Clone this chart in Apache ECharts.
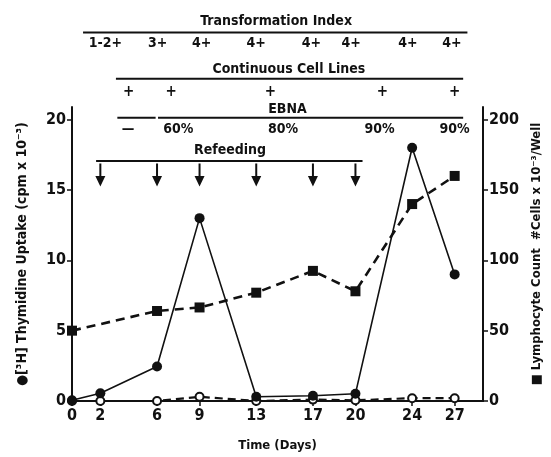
<!DOCTYPE html>
<html>
<head>
<meta charset="utf-8">
<script src="https://cdn.jsdelivr.net/npm/echarts@6/dist/echarts.min.js"></script>
<style>html,body{margin:0;padding:0;background:#fff}#c{width:551px;height:457px}</style>
</head>
<body>
<div id="c"></div>
<script>
// ---- data ----
var days = [0, 2, 6, 9, 13, 17, 20, 24, 27];
var thymidine = [0.05, 0.55, 2.45, 13, 0.3, 0.37, 0.52, 18, 9];           // filled circles, left axis
var thymidineCtrl = [0, 0, 0, 0.3, 0, 0.1, 0.05, 0.2, 0.2];               // open circles, left axis
var cellDays = [0, 6, 9, 13, 17, 20, 24, 27];
var cellCount = [50, 64, 66.5, 77, 92.5, 78, 140, 160];                  // squares, right axis
var xTicks = [0, 2, 6, 9, 13, 17, 20, 24, 27];
var leftTicks = [0, 5, 10, 15, 20];
var rightTicks = [0, 50, 100, 150, 200];

// annotation rows (x in days, y in left-axis units)
var tiLabels = ['1-2+', '3+', '4+', '4+', '4+', '4+', '4+', '4+'];
var tiDays = [2.35, 6.05, 9.15, 13.0, 16.9, 19.7, 23.7, 26.8];
var cclDays = [4.0, 7.0, 14.0, 21.9, 27.0];
var ebnaLabels = ['\u2014', '60%', '80%', '90%', '90%'];
var ebnaDays = [3.95, 7.5, 14.9, 21.7, 27.0];
var refeedDays = [2, 6, 9, 13, 17, 20];
var headers = [
  {text: 'Transformation Index', x: 14.4, y: 27.0},
  {text: 'Continuous Cell Lines', x: 15.3, y: 23.6},
  {text: 'EBNA', x: 15.2, y: 20.7},
  {text: 'Refeeding', x: 11.15, y: 17.8}
];
var rules = [
  [[0.78, 26.2], [27.9, 26.2]],
  [[3.1, 22.9], [27.6, 22.9]],
  [[3.2, 20.14], [5.9, 20.14]],
  [[6.07, 20.14], [27.6, 20.14]],
  [[1.7, 17.07], [20.5, 17.07]]
];
var rowY = {ti: 25.4, ccl: 21.95, ebna: 19.3, arrow: 16.06};

var FONT = "'Liberation Sans Narrow','DejaVu Sans Condensed','Arial Narrow',sans-serif";
var INK = '#111';

function labelSeries(xs, y, texts, size) {
  return {
    type: 'scatter', yAxisIndex: 0, clip: false, silent: true, symbolSize: 0,
    itemStyle: {opacity: 1},
    data: xs.map(function (x, i) { return {value: [x, y], name: texts[i]}; }),
    label: {show: true, position: 'inside', formatter: '{b}', color: INK,
            fontFamily: FONT, fontWeight: 'bold', fontSize: size || 14}
  };
}

var series = [];
headers.forEach(function (h) {
  series.push(labelSeries([h.x], h.y, [h.text], 14));
});
rules.forEach(function (r) {
  series.push({type: 'line', yAxisIndex: 0, clip: false, silent: true, symbol: 'none',
    data: r, lineStyle: {color: INK, width: 2}});
});
series.push(labelSeries(tiDays, rowY.ti, tiLabels, 14));
series.push(labelSeries(cclDays, rowY.ccl, cclDays.map(function () { return '+'; }), 15));
series.push(labelSeries(ebnaDays, rowY.ebna, ebnaLabels, 14));
series.push({
  type: 'scatter', yAxisIndex: 0, clip: false, silent: true,
  symbol: 'path://M4,0 L6,0 L6,13 L10,13 L5,24 L0,13 L4,13 Z',
  symbolSize: [10, 23], itemStyle: {color: INK, opacity: 1},
  data: refeedDays.map(function (d) { return [d, rowY.arrow]; })
});

series.push({
  type: 'line', yAxisIndex: 0, symbol: 'emptyCircle', symbolSize: 8,
  data: days.map(function (d, i) { return [d, thymidineCtrl[i]]; }),
  itemStyle: {color: INK, borderWidth: 2},
  lineStyle: {color: INK, width: 2.2, type: [8, 5]}, z: 3
});
series.push({
  type: 'line', yAxisIndex: 1, symbol: 'rect', symbolSize: 10,
  data: cellDays.map(function (d, i) { return [d, cellCount[i]]; }),
  itemStyle: {color: INK},
  lineStyle: {color: INK, width: 2.6, type: [9, 6]}, z: 4
});
series.push({
  type: 'line', yAxisIndex: 0, symbol: 'circle', symbolSize: 10,
  data: days.map(function (d, i) { return [d, thymidine[i]]; }),
  itemStyle: {color: INK},
  lineStyle: {color: INK, width: 1.6}, z: 5
});

var axisFont = {color: INK, fontFamily: FONT, fontWeight: 'bold', fontSize: 16};

var option = {
  animation: false,
  backgroundColor: '#fff',
  grid: {left: 72, right: 68, top: 107, bottom: 50, containLabel: false},
  xAxis: {
    type: 'value', min: 0, max: 29,
    name: 'Time (Days)', nameLocation: 'middle', nameGap: 38,
    nameTextStyle: {color: INK, fontFamily: FONT, fontWeight: 'bold', fontSize: 13},
    axisLine: {lineStyle: {color: INK, width: 2}},
    axisTick: {show: true, length: 5, inside: false, customValues: xTicks, lineStyle: {color: INK, width: 1.5}},
    axisLabel: Object.assign({customValues: xTicks, margin: 7}, axisFont),
    splitLine: {show: false}
  },
  yAxis: [{
    type: 'value', min: 0, max: 20.9, position: 'left',
    name: '\u25CF[\u00B3H] Thymidine Uptake (cpm x 10\u207B\u00B3)',
    nameLocation: 'middle', nameRotate: 90, nameGap: 43,
    nameTextStyle: {color: INK, fontFamily: FONT, fontWeight: 'bold', fontSize: 14},
    axisLine: {show: true, lineStyle: {color: INK, width: 2}},
    axisTick: {show: true, length: 5, customValues: leftTicks, lineStyle: {color: INK, width: 1.5}},
    axisLabel: Object.assign({customValues: leftTicks, margin: 6}, axisFont),
    splitLine: {show: false}
  }, {
    type: 'value', min: 0, max: 209, position: 'right',
    name: '\u25A0 Lymphocyte Count  #Cells x 10\u207B\u00B3/Well',
    nameLocation: 'middle', nameRotate: 90, nameGap: 44,
    nameTextStyle: {color: INK, fontFamily: FONT, fontWeight: 'bold', fontSize: 13},
    axisLine: {show: true, lineStyle: {color: INK, width: 2}},
    axisTick: {show: true, length: 5, customValues: rightTicks, lineStyle: {color: INK, width: 1.5}},
    axisLabel: Object.assign({customValues: rightTicks, margin: 6}, axisFont),
    splitLine: {show: false}
  }],
  series: series
};

var chart = echarts.init(document.getElementById('c'), null, {renderer: 'canvas'});
chart.setOption(option);
</script>
</body>
</html>
